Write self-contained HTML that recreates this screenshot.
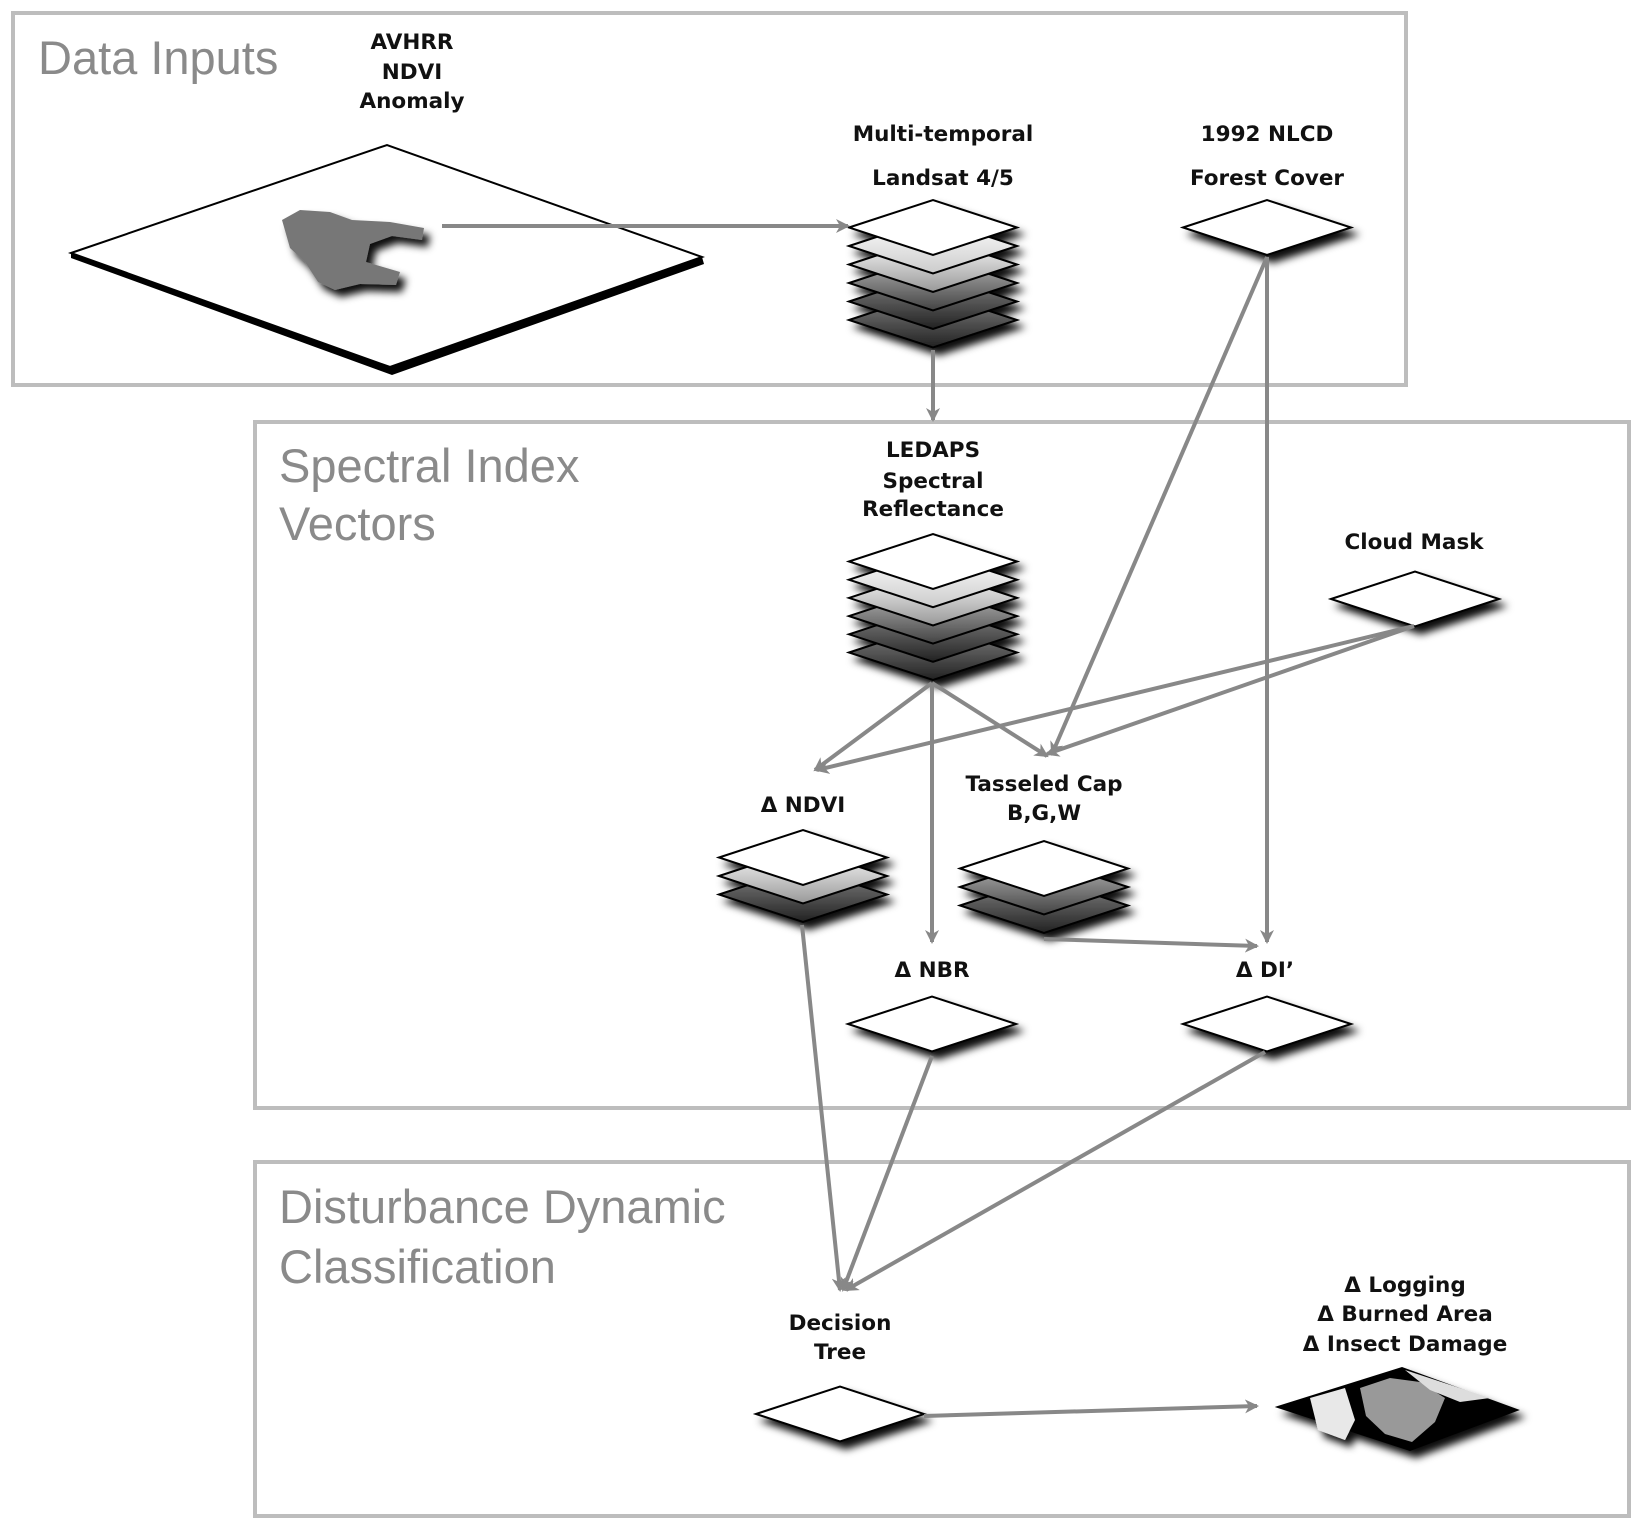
<!DOCTYPE html>
<html><head><meta charset="utf-8"><style>
html,body{margin:0;padding:0;background:#fff;}
svg{display:block;}
.t{font-family:"DejaVu Sans","Liberation Sans",sans-serif;font-weight:bold;font-size:21.5px;fill:#111;text-anchor:middle;}
.h{font-family:"Liberation Sans",sans-serif;font-size:47px;fill:#8a8a8a;}
</style></head><body>
<svg width="1642" height="1532" viewBox="0 0 1642 1532" xmlns="http://www.w3.org/2000/svg">
<defs>
<filter id="sh" x="-30%" y="-50%" width="170%" height="230%">
<feDropShadow dx="6" dy="7" stdDeviation="4" flood-color="#000" flood-opacity="0.95"/>
</filter>
<linearGradient id="g1" x1="0" y1="0" x2="0" y2="1"><stop offset="0" stop-color="#fff"/><stop offset="1" stop-color="#ccc"/></linearGradient>
<linearGradient id="g2" x1="0" y1="0" x2="0" y2="1"><stop offset="0" stop-color="#fff"/><stop offset="1" stop-color="#999"/></linearGradient>
<linearGradient id="g3" x1="0" y1="0" x2="0" y2="1"><stop offset="0" stop-color="#bbb"/><stop offset="1" stop-color="#444"/></linearGradient>
<linearGradient id="g4" x1="0" y1="0" x2="0" y2="1"><stop offset="0" stop-color="#888"/><stop offset="1" stop-color="#222"/></linearGradient>
<polygon id="d" points="-84,0 0,-27.5 84,0 0,27.5" stroke="#000" stroke-width="2"/>
<marker id="ar" markerWidth="16" markerHeight="16" refX="12" refY="7" orient="auto" markerUnits="userSpaceOnUse">
<path d="M0,0 L14,7 L0,14 L4,7 z" fill="#888"/>
</marker>
</defs>

<rect x="13" y="13" width="1393" height="372" fill="none" stroke="#bdbdbd" stroke-width="4"/>
<rect x="255" y="422" width="1374" height="686" fill="none" stroke="#bdbdbd" stroke-width="4"/>
<rect x="255" y="1162" width="1374" height="354" fill="none" stroke="#bdbdbd" stroke-width="4"/>

<text class="h" x="38" y="74">Data Inputs</text>
<text class="h" x="279" y="482">Spectral Index</text>
<text class="h" x="279" y="540">Vectors</text>
<text class="h" x="279" y="1223">Disturbance Dynamic</text>
<text class="h" x="279" y="1283">Classification</text>

<polygon points="71,253 390,367 702,257 704,264 392,375 71,258" fill="#000"/>
<polygon points="71,253 387,145 702,257 390,367" fill="#fff" stroke="#000" stroke-width="2"/>
<path d="M282,220 L300,210 L330,212 L352,220 L390,222 L424,228 L422,240 L392,236 L370,244 L366,262 L400,272 L396,285 L360,284 L335,290 L318,282 L305,262 L290,248 Z" fill="#777" filter="url(#sh)"/>

<g class="t">
<text x="412" y="49">AVHRR</text>
<text x="412" y="79">NDVI</text>
<text x="412" y="108">Anomaly</text>
<text x="943" y="141">Multi-temporal</text>
<text x="943" y="185">Landsat 4/5</text>
<text x="1267" y="141">1992 NLCD</text>
<text x="1267" y="185">Forest Cover</text>
<text x="933" y="457">LEDAPS</text>
<text x="933" y="488">Spectral</text>
<text x="933" y="516">Reflectance</text>
<text x="1414" y="549">Cloud Mask</text>
<text x="803" y="812">Δ NDVI</text>
<text x="1044" y="791">Tasseled Cap</text>
<text x="1044" y="820">B,G,W</text>
<text x="932" y="977">Δ NBR</text>
<text x="1265" y="977">Δ DI’</text>
<text x="840" y="1330">Decision</text>
<text x="840" y="1359">Tree</text>
<text x="1405" y="1292">Δ Logging</text>
<text x="1405" y="1321">Δ Burned Area</text>
<text x="1405" y="1351">Δ Insect Damage</text>
</g>

<g filter="url(#sh)">
<use href="#d" x="933" y="320" fill="url(#g4)"/>
<use href="#d" x="933" y="301.5" fill="url(#g4)"/>
<use href="#d" x="933" y="283" fill="url(#g3)"/>
<use href="#d" x="933" y="264.5" fill="url(#g2)"/>
<use href="#d" x="933" y="246" fill="url(#g1)"/>
<use href="#d" x="933" y="227.5" fill="#fff"/>
</g>
<g filter="url(#sh)">
<use href="#d" x="933" y="652.5" fill="url(#g4)"/>
<use href="#d" x="933" y="634.3" fill="url(#g4)"/>
<use href="#d" x="933" y="616.1" fill="url(#g3)"/>
<use href="#d" x="933" y="597.9" fill="url(#g2)"/>
<use href="#d" x="933" y="579.7" fill="url(#g1)"/>
<use href="#d" x="933" y="561.5" fill="#fff"/>
</g>
<g filter="url(#sh)">
<use href="#d" x="803" y="894.5" fill="url(#g4)"/>
<use href="#d" x="803" y="876" fill="url(#g2)"/>
<use href="#d" x="803" y="857.5" fill="#fff"/>
</g>
<g filter="url(#sh)">
<use href="#d" x="1044" y="905.5" fill="url(#g4)"/>
<use href="#d" x="1044" y="887" fill="url(#g3)"/>
<use href="#d" x="1044" y="868.5" fill="#fff"/>
</g>
<g filter="url(#sh)" fill="#fff">
<use href="#d" x="1267" y="227.5"/>
<use href="#d" x="1415" y="599"/>
<use href="#d" x="932" y="1024"/>
<use href="#d" x="1267" y="1024"/>
<use href="#d" x="840" y="1414"/>
</g>

<g filter="url(#sh)">
<polygon points="1278,1407 1402,1368 1517,1410 1410,1450" fill="#000" stroke="#000" stroke-width="2"/>
<path d="M1310,1398 L1345,1388 L1355,1420 L1345,1440 L1318,1430 Z" fill="#e8e8e8"/>
<path d="M1360,1388 L1390,1378 L1420,1382 L1445,1398 L1435,1422 L1412,1442 L1385,1434 L1366,1416 Z" fill="#999"/>
<path d="M1405,1370 L1490,1398 L1460,1402 L1430,1390 Z" fill="#ddd"/>
</g>

<g stroke="#888" stroke-width="4" fill="none">
<line x1="442" y1="226" x2="848" y2="226" marker-end="url(#ar)"/>
<line x1="933" y1="350" x2="933" y2="420" marker-end="url(#ar)"/>
<line x1="932" y1="683" x2="815" y2="770" marker-end="url(#ar)"/>
<line x1="932" y1="683" x2="1047" y2="756" marker-end="url(#ar)"/>
<line x1="932" y1="683" x2="932" y2="942" marker-end="url(#ar)"/>
<line x1="1267" y1="257" x2="1052" y2="754" marker-end="url(#ar)"/>
<line x1="1267" y1="257" x2="1267" y2="942" marker-end="url(#ar)"/>
<line x1="1414" y1="626" x2="817" y2="770" marker-end="url(#ar)"/>
<line x1="1414" y1="626" x2="1047" y2="754" marker-end="url(#ar)"/>
<line x1="1044" y1="939" x2="1257" y2="946" marker-end="url(#ar)"/>
<line x1="802" y1="925" x2="840" y2="1290" marker-end="url(#ar)"/>
<line x1="932" y1="1056" x2="843" y2="1290" marker-end="url(#ar)"/>
<line x1="1265" y1="1052" x2="846" y2="1290" marker-end="url(#ar)"/>
<line x1="924" y1="1416" x2="1257" y2="1406" marker-end="url(#ar)"/>
</g>
</svg>
</body></html>
